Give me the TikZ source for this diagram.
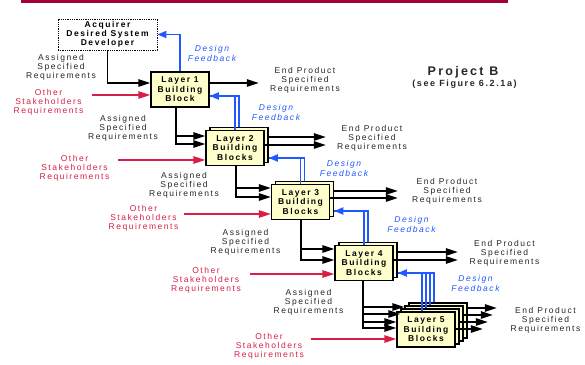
\documentclass[tikz,border=0pt]{standalone}
\usepackage{fontspec}
\setmainfont{Liberation Sans}[LetterSpace=18]
\usepackage{xcolor}
\usepackage{tikz}
\usetikzlibrary{positioning, calc, arrows.meta}
\definecolor{boxyellow}{rgb}{1.0, 1.0, 0.8}
\definecolor{fbblue}{rgb}{0.12, 0.35, 1.0}
\definecolor{reqred}{rgb}{0.85, 0.12, 0.27}
\definecolor{barred}{rgb}{0.63, 0.0, 0.22}
\definecolor{txtgray}{rgb}{0.15, 0.15, 0.15}

\tikzset{
  blk/.style={draw, line width=1.5pt, fill=boxyellow, minimum width=58pt, minimum height=35pt, inner sep=0pt, align=center, font=\fontsize{8.5}{9.5}\selectfont\bfseries},
  lbl/.style={align=center, text=txtgray, inner sep=0pt, font=\fontsize{8.5}{9}\selectfont},
  oth/.style={lbl, text=reqred},
  fbk/.style={lbl, text=fbblue, font=\fontsize{8.5}{10}\selectfont\itshape},
  arr/.style={line width=1.5pt, -{Triangle[length=12pt,width=7.5pt]}},
  rarr/.style={arr, reqred},
  fline/.style={line width=1.7pt, fbblue},
  farr/.style={fline, -{Triangle[length=9pt,width=7pt]}}
}

\begin{document}
\begin{tikzpicture}[x=1pt, y=-1pt]
\useasboundingbox (0,0) rectangle (585,364);
\fill[barred] (21,0) rectangle (508,3);

\node[draw, densely dotted, line width=0.8pt, minimum width=99pt, minimum height=31pt, inner sep=0pt, align=center, font=\fontsize{8.5}{9}\selectfont\bfseries] (acq) at (107.5,34.5) {Acquirer\\Desired System\\Developer};

\node[blk] (L1) at (180,89.5) {Layer 1\\Building\\Block};
\node[blk] (L2b) at (239,145) {};
\node[blk] (L2) at (235,148) {Layer 2\\Building\\Blocks};
\node[blk] (L3b) at (304.5,199) {};
\node[blk] (L3) at (300.5,202) {Layer 3\\Building\\Blocks};
\node[blk] (L4b) at (368,260) {};
\node[blk] (L4) at (364,263) {Layer 4\\Building\\Blocks};
\node[blk] (L5c) at (438,320.5) {};
\node[blk] (L5b) at (434,323.5) {};
\node[blk] (L5a) at (430,326.5) {};
\node[blk] (L5) at (426,329.5) {Layer 5\\Building\\Blocks};

\node[font=\fontsize{12.5}{12.5}\selectfont\bfseries, text=txtgray] (title) at (463,72) {Project B};
\node[font=\fontsize{9}{9}\selectfont\bfseries, text=txtgray] (sub) at (464.5,84) {(see Figure 6.2.1a)};

\node[lbl] (as1) at (61,67) {Assigned\\Specified\\Requirements};
\node[oth] (os1) at (48.5,102) {Other\\Stakeholders\\Requirements};
\node[lbl] (as2) at (123,128) {Assigned\\Specified\\Requirements};
\node[oth] (os2) at (74.5,168) {Other\\Stakeholders\\Requirements};
\node[lbl] (as3) at (184,185) {Assigned\\Specified\\Requirements};
\node[oth] (os3) at (143.5,218) {Other\\Stakeholders\\Requirements};
\node[lbl] (as4) at (245.5,242) {Assigned\\Specified\\Requirements};
\node[oth] (os4) at (206,280) {Other\\Stakeholders\\Requirements};
\node[lbl] (as5) at (308.5,302) {Assigned\\Specified\\Requirements};
\node[oth] (os5) at (269,346.5) {Other\\Stakeholders\\Requirements};

\node[lbl] (ep1) at (305,80) {End Product\\Specified\\Requirements};
\node[lbl] (ep2) at (372,138.5) {End Product\\Specified\\Requirements};
\node[lbl] (ep3) at (447,191.5) {End Product\\Specified\\Requirements};
\node[lbl] (ep4) at (504.5,253.5) {End Product\\Specified\\Requirements};
\node[lbl] (ep5) at (545.5,320.5) {End Product\\Specified\\Requirements};

\node[fbk] (df1) at (212,53) {Design\\Feedback};
\node[fbk] (df2) at (276,112) {Design\\Feedback};
\node[fbk] (df3) at (344,168) {Design\\Feedback};
\node[fbk] (df4) at (411.5,224.5) {Design\\Feedback};
\node[fbk] (df5) at (475.5,283.5) {Design\\Feedback};

% assigned requirements down the layers
\draw[arr] (acq.south) |- ($(L1.west)+(0,-6.5)$);
\draw[arr] ($(L1.south)+(-4,0)$) |- ($(L2.west)+(0,-12)$);
\draw[arr] ($(L1.south)+(-4,0)$) |- ($(L2.west)+(0,-4)$);
\draw[arr] ($(L2.south)+(1,0)$) |- ($(L3.west)+(0,-14)$);
\draw[arr] ($(L2.south)+(1,0)$) |- ($(L3.west)+(0,-5)$);
\draw[arr] ($(L3.south)+(0.5,0)$) |- ($(L4.west)+(0,-14)$);
\draw[arr] ($(L3.south)+(0.5,0)$) |- ($(L4.west)+(0,-3)$);
\draw[arr] ($(L4.south)+(-1,0)$) |- ($(L5b.west)+(0,-16.5)$);
\draw[arr] ($(L4.south)+(-1,0)$) |- ($(L5a.west)+(0,-12.5)$);
\draw[arr] ($(L4.south)+(-1,0)$) |- ($(L5.west)+(0,-7.5)$);
\draw[arr] ($(L4.south)+(-1,0)$) |- ($(L5.west)+(0,-1.5)$);

% other stakeholders
\coordinate (o1) at (92,95);
\coordinate (o2) at (118,160);
\coordinate (o3) at (184,214);
\coordinate (o4) at (250,274);
\coordinate (o5) at (311,339);
\draw[rarr] (o1) -- (o1 -| L1.west);
\draw[rarr] (o2) -- (o2 -| L2.west);
\draw[rarr] (o3) -- (o3 -| L3.west);
\draw[rarr] (o4) -- (o4 -| L4.west);
\draw[rarr] (o5) -- (o5 -| L5.west);

% end products
\draw[arr] ($(L1.east)+(0,-6.5)$) -- +(49,0);
\draw[arr] ($(L2b.east)+(0,-8)$) -- +(57,0);
\draw[arr] ($(L2.east)+(0,-3)$) -- +(61,0);
\draw[arr] ($(L3b.east)+(0,-8)$) -- +(63.5,0);
\draw[arr] ($(L3.east)+(0,-4)$) -- +(67.5,0);
\draw[arr] ($(L4b.east)+(0,-8)$) -- +(60,0);
\draw[arr] ($(L4.east)+(0,-3)$) -- +(64,0);
\draw[arr] ($(L5c.east)+(0,-12.5)$) -- +(29,0);
\draw[arr] ($(L5b.east)+(0,-8.5)$) -- +(29,0);
\draw[arr] ($(L5a.east)+(0,-4.5)$) -- +(28,0);
\draw[arr] ($(L5.east)+(0,-0.5)$) -- +(27,0);

% design feedback
\coordinate (f2) at ($(L1.east)+(0,6.5)$);
\coordinate (f3) at ($(L2b.east)+(0,13)$);
\coordinate (f4) at ($(L3b.east)+(0,12)$);
\coordinate (f5) at ($(L4b.east)+(0,13)$);
\draw[farr] (L1.north) |- (acq.east);
\draw[fline] (L2.north) |- (f2);
\draw[farr] (L2b.north) |- (f2);
\draw[fline] (L3.north) |- (f3);
\draw[farr] (L3b.north) |- (f3);
\draw[fline] (L4.north) |- (f4);
\draw[farr] (L4b.north) |- (f4);
\draw[fline] ($(L5.north)+(-4,0)$) |- (f5);
\draw[fline] ($(L5a.north)+(-4,0)$) |- (f5);
\draw[fline] ($(L5b.north)+(-4,0)$) |- (f5);
\draw[farr] ($(L5c.north)+(-4,0)$) |- (f5);
\end{tikzpicture}
\end{document}
